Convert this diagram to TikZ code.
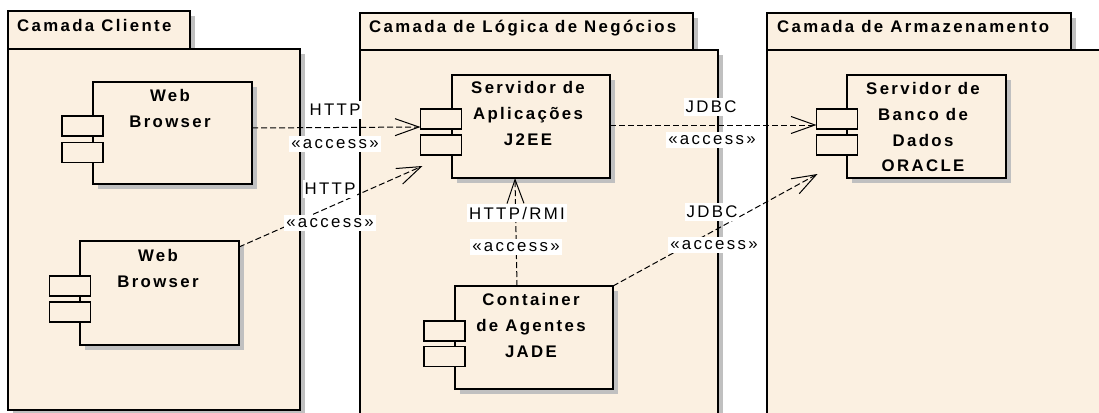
\documentclass[tikz,border=0pt]{standalone}
\usepackage{fontspec}
\newfontfamily\df[LetterSpace=14]{Liberation Sans}
\usetikzlibrary{arrows.meta,shadows}
\definecolor{cream}{RGB}{251,240,225}
\definecolor{shd}{RGB}{192,192,192}
\begin{document}
\begin{tikzpicture}[x=1pt,y=-1pt,
 every node/.style={font=\df\fontsize{16.8}{25.7}\selectfont},
 box/.style={draw=black, line width=1.6pt, fill=cream, inner sep=0pt, outer sep=0pt},
 shbox/.style={box, drop shadow={shadow xshift=5pt, shadow yshift=-5pt, fill=shd, opacity=1}},
 port/.style={draw=black, line width=1.4pt, fill=cream, minimum width=41pt, minimum height=20pt, inner sep=0pt, outer sep=0pt},
 ttl/.style={font=\df\bfseries\fontsize{16.8}{25.7}\selectfont, align=center, anchor=north, inner sep=0pt},
 ptitle/.style={font=\df\bfseries\fontsize{16.8}{25.7}\selectfont, anchor=base west, inner sep=0pt},
 lbl/.style={fill=white, inner xsep=2pt, inner ysep=3pt},
 dep/.style={line width=1pt, dash pattern=on 6pt off 3pt, -{Straight Barb[length=24pt,width=17pt,line width=1pt]}}
]
\useasboundingbox (0,0) rectangle (1099,412);
\clip (0,0) rectangle (1099,412);
\fill[white] (0,0) rectangle (1099,412);

% packages
\node[shbox, minimum width=182pt, minimum height=38pt] (p1t) at (99,30) {};
\node[shbox, minimum width=292pt, minimum height=361pt] (p1) at (154,229.5) {};
\node[ptitle] (p1l) at (17,31.5) {Camada Cliente};

\node[shbox, minimum width=333pt, minimum height=37pt] (p2t) at (526.5,31.5) {};
\node[shbox, minimum width=358pt, minimum height=380pt] (p2) at (539,240) {};
\node[ptitle] (p2l) at (369,32.5) {Camada de Lógica de Negócios};

\node[shbox, minimum width=304pt, minimum height=37pt] (p3t) at (919,31.5) {};
\node[shbox, minimum width=353pt, minimum height=380pt] (p3) at (943.5,240) {};
\node[ptitle] (p3l) at (777,32.5) {Camada de Armazenamento};

% components
\node[shbox, minimum width=159pt, minimum height=102pt] (wb1) at (172.5,133) {};
\node[port] (wb1a) at (82.5,126) {};
\node[port] (wb1b) at (82.5,152.5) {};
\node[ttl] (wb1t) at (170,89.5) {Web\\Browser};

\node[shbox, minimum width=159pt, minimum height=104pt] (wb2) at (159.5,293) {};
\node[port] (wb2a) at (70,286) {};
\node[port] (wb2b) at (70,312) {};
\node[ttl] (wb2t) at (158,249.5) {Web\\Browser};

\node[shbox, minimum width=158pt, minimum height=103pt] (j2) at (531,126.5) {};
\node[port] (j2a) at (441,119) {};
\node[port] (j2b) at (441,145) {};
\node[ttl] (j2t) at (528,81.5) {Servidor de\\Aplicações\\J2EE};

\node[shbox, minimum width=158pt, minimum height=103pt] (ct) at (534,337.5) {};
\node[port] (cta) at (444.5,331) {};
\node[port] (ctb) at (444.5,356.5) {};
\node[ttl] (ctt) at (531,293.5) {Container\\de Agentes\\JADE};

\node[shbox, minimum width=159pt, minimum height=103pt] (or) at (926.5,126.5) {};
\node[port] (ora) at (837,119) {};
\node[port] (orb) at (837,145) {};
\node[ttl] (ort) at (923,82.5) {Servidor de\\Banco de\\Dados\\ORACLE};

% connectors
\coordinate (orA) at ([yshift=-6pt]ora.west);
\draw[dep] ([yshift=5pt]wb1.east) -- ([yshift=-8pt]j2a.west);
\draw[dep] ([yshift=-6pt]wb2.north east) -- ([shift={(2pt,-11pt)}]j2b.south west);
\draw[dep] (j2.east |- orA) -- (orA);
\draw[dep] (ct.north east) -- ([shift={(1pt,-19pt)}]orb.south west);
\draw[dep] ([xshift=-17pt]ct.north) -- ([xshift=-16pt]j2.south);

% labels
\node[lbl] (l1a) at (335,110) {HTTP};
\node[lbl] (l1b) at (335,144) {«access»};
\node[lbl] (l2a) at (330,189) {HTTP};
\node[lbl] (l2b) at (330,223) {«access»};
\node[lbl] (l3a) at (711,107) {JDBC};
\node[lbl] (l3b) at (712,140) {«access»};
\node[lbl] (l4a) at (712,212) {JDBC};
\node[lbl] (l4b) at (714,245) {«access»};
\node[lbl] (l5a) at (517,213) {HTTP/RMI};
\node[lbl] (l5b) at (516,247) {«access»};
\end{tikzpicture}
\end{document}
